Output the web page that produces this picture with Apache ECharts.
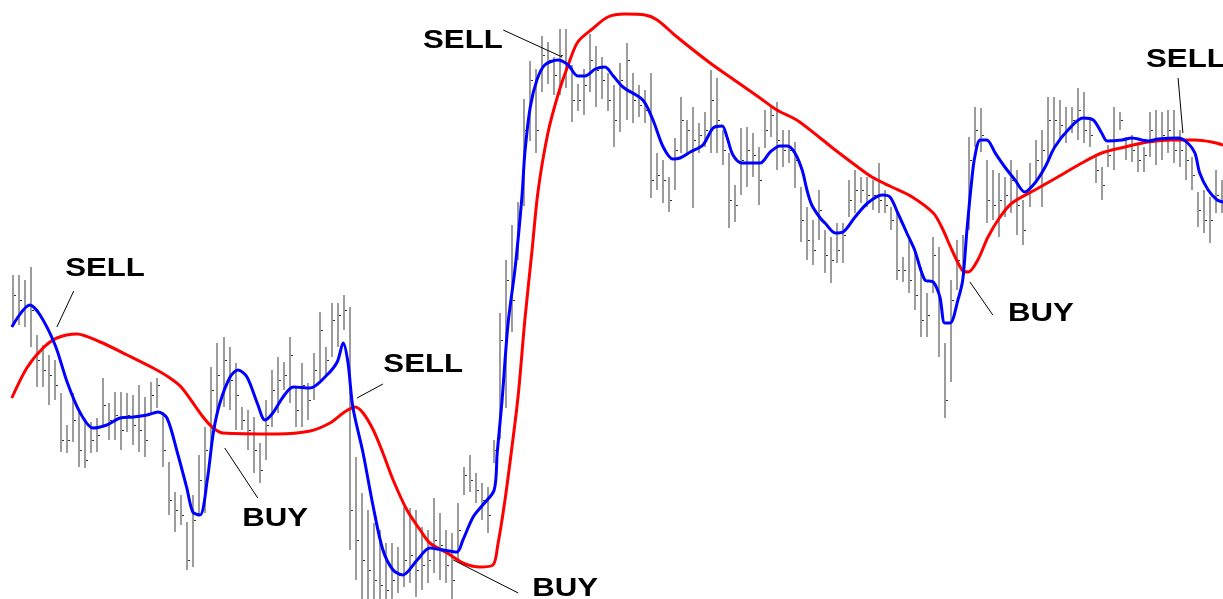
<!DOCTYPE html>
<html>
<head>
<meta charset="utf-8">
<script src="https://cdn.jsdelivr.net/npm/echarts@6/dist/echarts.min.js"></script>
<style>
  html, body { margin: 0; padding: 0; background: #fff; }
  #chart { width: 1223px; height: 599px; }
</style>
</head>
<body>
<div id="chart"></div>
<script>
// price bars, one per period (index = position in array)
const high = [
  325,325,320,333,265,255,245,240,207,175,
  207,188,182,178,182,222,197,208,208,207,
  205,215,203,218,222,188,138,108,105,78,
  105,145,173,233,257,263,253,237,193,190,
  183,157,200,230,243,238,263,213,237,217,
  247,288,253,297,297,305,293,143,107,90,
  77,70,57,57,53,93,92,90,73,70,
  102,87,70,67,97,133,145,127,117,113,
  160,287,340,375,398,501,539,531,564,558,
  543,571,571,535,516,531,566,554,543,527,
  515,537,557,527,515,510,527,447,440,423,
  462,503,480,493,477,488,530,522,470,447,
  415,472,473,467,453,490,493,498,470,470,
  458,413,393,380,410,370,363,377,377,420,
  430,423,423,420,437,410,393,387,343,360,
  347,333,307,363,353,257,320,360,365,463,
  493,492,440,430,427,423,440,430,400,437,
  460,470,503,503,500,493,493,512,508,483,
  443,433,455,493,488,463,465,458,453,488,
  490,488,490,490,470,457,443,408,410,403,
  430,420
];
const low = [
  273,275,273,253,213,213,195,200,148,147,
  158,133,132,147,148,175,160,160,150,168,
  155,148,143,185,192,133,85,68,75,30,
  33,85,87,153,187,193,190,170,170,150,
  127,117,140,173,187,210,197,173,173,180,
  200,220,223,243,253,270,50,20,-10,-10,
  -10,-10,-10,-10,7,13,17,3,10,17,
  27,20,17,0,40,105,108,97,80,67,
  137,161,192,268,340,394,459,447,508,516,
  505,505,512,478,489,485,508,493,501,489,
  453,468,480,477,483,477,402,410,397,388,
  410,447,447,392,447,453,447,447,435,372,
  378,405,413,423,395,452,463,430,433,437,
  412,358,340,335,360,327,317,337,337,383,
  387,397,393,390,387,387,370,320,318,307,
  290,263,263,307,243,182,218,310,325,370,
  453,448,377,380,363,383,387,365,355,393,
  420,393,440,450,460,457,467,460,457,453,
  417,400,433,430,470,440,438,428,428,443,
  435,440,447,437,433,420,410,373,367,357,
  387,387
];
const close = [
  305,300,295,290,240,230,225,215,160,160,
  180,150,140,160,165,195,180,185,170,185,
  175,170,160,205,215,150,100,90,85,40,
  80,120,150,210,225,240,220,205,180,170,
  150,130,175,210,220,225,245,190,215,200,
  230,270,240,280,285,290,90,60,40,30,
  20,15,10,20,25,40,45,30,35,40,
  60,55,35,20,70,125,120,110,100,85,
  150,260,320,300,380,470,520,470,545,540,
  525,545,535,500,500,515,540,530,520,500,
  480,520,540,500,495,490,420,425,420,400,
  450,480,470,460,465,470,500,480,450,400,
  395,440,450,445,420,470,485,460,450,450,
  440,380,360,350,390,345,340,350,365,400,
  410,410,405,405,400,395,380,330,330,320,
  305,280,285,345,300,200,300,340,345,440,
  470,465,400,395,400,405,420,395,370,415,
  440,450,480,480,475,470,480,490,470,465,
  430,415,445,460,480,455,450,440,445,470,
  460,465,470,450,450,440,425,390,380,380,
  405,400
];

// fast moving average (blue), read as [bar index, price]
const fastMA = [
  [-0.2,273],[2.8,295],[4.5,285],[7.0,255],[9.0,218],[11.1,188],[13.3,172],[15.6,175],
  [17.8,182],[20.0,183],[22.3,185],[24.1,188],[25.6,182],[27.3,148],[28.9,112],[29.9,88],
  [31.1,85],[32.3,120],[33.3,167],[34.4,197],[36.1,223],[37.4,230],[38.9,223],[40.6,197],
  [41.9,180],[43.2,187],[44.9,203],[46.6,213],[49.4,212],[52.2,225],[53.9,238],[54.9,257],
  [55.7,237],[56.5,193],[58.2,147],[59.9,93],[61.5,50],[63.2,30],[64.8,25],[67.2,40],
  [69.3,52],[71.5,50],[73.8,48],[74.8,60],[76.5,83],[78.1,95],[80.0,110],[80.5,147],
  [81.3,199],[82.3,276],[83.5,333],[84.6,402],[85.1,447],[86.0,493],[87.1,520],[88.4,535],
  [90.6,540],[92.3,535],[93.9,524],[95.1,524],[96.8,531],[98.4,533],[99.8,524],[101.4,513],
  [104.7,500],[106.4,480],[108.1,453],[109.7,441],[110.9,442],[112.6,448],[114.7,455],[116.4,472],
  [117.9,474],[118.7,463],[119.7,445],[121.2,437],[124.2,437],[125.9,448],[127.5,454],[128.8,454],
  [130.0,447],[131.2,430],[132.0,410],[132.8,395],[134.2,382],[135.0,377],[136.7,367],[138.0,368],
  [140.0,383],[142.1,397],[144.5,405],[145.8,403],[147.1,387],[148.6,367],[149.9,350],[151.6,320],
  [153.0,318],[154.1,303],[154.9,277],[155.8,277],[157.1,300],[157.9,320],[158.6,370],[159.4,420],
  [159.9,443],[160.8,460],[161.9,460],[163.3,447],[164.9,433],[166.6,420],[168.2,408],[169.9,417],
  [171.6,433],[173.2,453],[175.4,470],[177.9,482],[179.6,480],[181.0,467],[181.9,459],[184.4,460],
  [186.0,462],[188.7,459],[190.4,461],[193.7,462],[195.3,457],[196.5,447],[197.3,427],[198.7,410],
  [200.2,400],[201.2,398]
];

// slow moving average (red)
const slowMA = [
  [-0.2,202],[2.3,232],[5.0,252],[7.3,262],[10.6,266],[14.5,258],[19.0,245],[23.3,232],
  [26.1,222],[28.1,212],[31.6,183],[33.3,172],[34.9,167],[43.9,166],[49.4,169],[52.7,177],
  [54.9,187],[56.9,193],[58.2,187],[59.9,170],[61.5,147],[63.2,120],[65.5,90],[67.7,70],
  [69.3,57],[72.2,47],[74.8,37],[77.6,33],[79.8,35],[80.6,55],[81.8,100],[83.0,155],
  [84.0,205],[85.1,280],[86.3,350],[87.3,409],[88.9,466],[90.6,505],[92.3,535],[93.9,558],
  [96.3,571],[98.9,583],[101.7,586],[105.1,585],[107.1,580],[110.4,563],[115.9,537],[120.4,518],
  [124.2,502],[127.0,490],[130.3,480],[134.2,462],[136.7,450],[140.0,435],[142.8,423],[146.1,413],
  [149.5,403],[153.0,387],[154.4,373],[156.1,350],[157.8,330],[158.8,328],[160.4,340],[162.1,363],
  [164.1,383],[166.1,397],[169.9,410],[173.7,423],[177.7,437],[181.0,447],[184.9,453],[188.7,458],
  [192.7,460],[196.5,460],[199.3,458],[201.2,455]
];

// crossover signals: leader line from/to (index, price) and text anchor
const signals = [
  { text: 'SELL', from: [10.1, 309], to: [7.3, 273], at: [15.3, 331] },
  { text: 'BUY',  from: [35.2, 152], to: [40.7, 102], at: [43.6, 81] },
  { text: 'SELL', from: [61.5, 216], to: [57.2, 202], at: [68.2, 235] },
  { text: 'BUY',  from: [73.2, 40],  to: [84.0, 7],   at: [91.8, 11] },
  { text: 'SELL', from: [81.5, 570], to: [91.3, 543], at: [74.8, 559] },
  { text: 'BUY',  from: [159.1, 318], to: [162.9, 285], at: [170.9, 286] },
  { text: 'SELL', from: [193.7, 522], to: [194.5, 467], at: [195.0, 540] }
];

const bars = high.map((h, i) => [i, h, low[i], close[i]]);

const chart = echarts.init(document.getElementById('chart'));

const option = {
  animation: false,
  backgroundColor: '#fff',
  grid: { left: 0, right: 0, top: 0, bottom: 0 },
  xAxis: { type: 'value', min: -2.16, max: 201.17, show: false },
  yAxis: { type: 'value', min: 1, max: 600, show: false },
  series: [
    {
      type: 'custom',
      data: bars,
      z: 1,
      renderItem: function (params, api) {
        const top = api.coord([api.value(0), api.value(1)]);
        const bot = api.coord([api.value(0), api.value(2)]);
        const cl = api.coord([api.value(0), api.value(3)]);
        const x = Math.round(top[0]);
        return {
          type: 'group',
          children: [
            {
              type: 'line',
              shape: { x1: x, y1: top[1], x2: x, y2: bot[1] },
              style: { stroke: '#9c9c9c', lineWidth: 2 }
            },
            {
              type: 'line',
              shape: { x1: x + 1, y1: Math.round(cl[1]) + 0.5, x2: x + 3, y2: Math.round(cl[1]) + 0.5 },
              style: { stroke: '#303030', lineWidth: 1 }
            }
          ]
        };
      }
    },
    {
      type: 'line',
      data: slowMA,
      z: 2,
      smooth: 0.3,
      symbol: 'none',
      lineStyle: { color: '#ff0000', width: 3 }
    },
    {
      type: 'line',
      data: fastMA,
      z: 3,
      smooth: 0.3,
      symbol: 'none',
      lineStyle: { color: '#0000ff', width: 3 },
      markLine: {
        silent: true,
        symbol: 'none',
        animation: false,
        label: { show: false },
        lineStyle: { color: '#000', width: 1, type: 'solid' },
        data: signals.map(s => [{ coord: s.from }, { coord: s.to }])
      }
    }
  ]
};
chart.setOption(option);

// signal texts, placed through the grid's coordinate system
chart.setOption({
  graphic: signals.map(s => {
    const p = chart.convertToPixel({ gridIndex: 0 }, s.at);
    return {
      type: 'text',
      x: p[0],
      y: p[1],
      scaleX: 1.2,
      z: 10,
      style: {
        text: s.text,
        x: 0,
        y: 0,
        fill: '#000',
        font: 'bold 26px "Liberation Sans", Arial, sans-serif',
        textAlign: 'center',
        textVerticalAlign: 'middle',
        align: 'center',
        verticalAlign: 'middle'
      }
    };
  })
});

window.addEventListener('resize', () => {
  chart.resize();
});
</script>
</body>
</html>
